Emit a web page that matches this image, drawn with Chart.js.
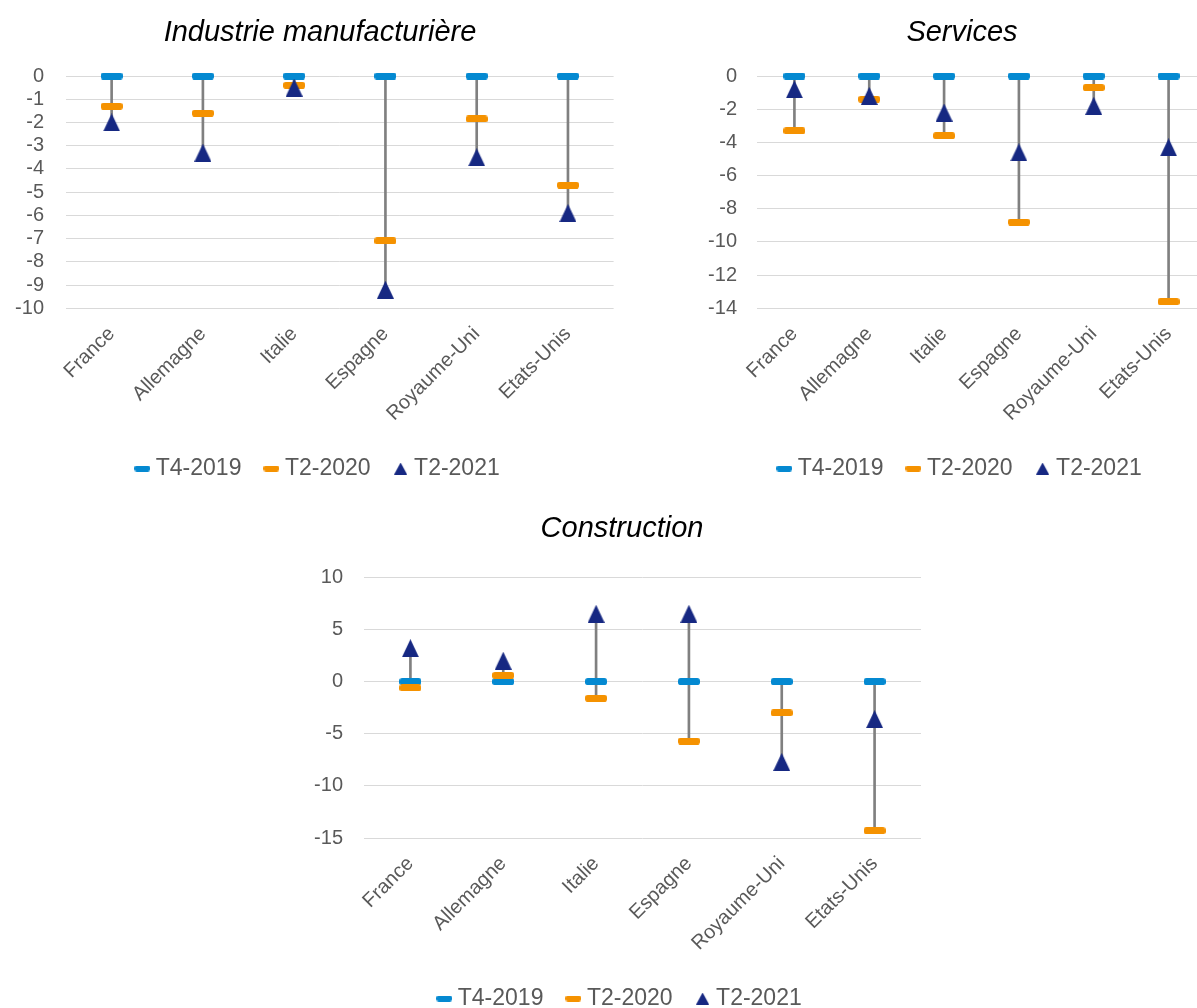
<!DOCTYPE html>
<html>
    <head>
        <meta charset="utf-8">
        <title>Industrie, services, construction</title>
        <script src="https://cdn.jsdelivr.net/npm/chart.js@4.4.1/dist/chart.umd.min.js"></script>
        <style>
            html, body { margin: 0; padding: 0; overflow: hidden; background: #fff; }
            body { width: 1197px; height: 1008px; position: relative; }
            canvas { position: absolute; }
        </style>
    </head>
    <body>
        <canvas id="chart-industrie" width="640" height="490" style="left:0px;top:0px"></canvas>
        <canvas id="chart-services" width="544" height="490" style="left:690px;top:0px"></canvas>
        <canvas id="chart-construction" width="644" height="530" style="left:300px;top:490px"></canvas>
        <script>
            // data
            var categories = ['France', 'Allemagne', 'Italie', 'Espagne', 'Royaume-Uni', 'Etats-Unis'];
            var seriesNames = ['T4-2019', 'T2-2020', 'T2-2021'];

            var industrie_t4_2019 = [0, 0, 0, 0, 0, 0];
            var industrie_t2_2020 = [-1.3, -1.6, -0.4, -7.1, -1.85, -4.7];
            var industrie_t2_2021 = [-2.0, -3.3, -0.5, -9.2, -3.5, -5.9];

            var services_t4_2019 = [0, 0, 0, 0, 0, 0];
            var services_t2_2020 = [-3.3, -1.4, -3.6, -8.8, -0.7, -13.6];
            var services_t2_2021 = [-0.8, -1.2, -2.2, -4.6, -1.8, -4.3];

            var construction_t4_2019 = [0, 0, 0, 0, 0, 0];
            var construction_t2_2020 = [-0.6, 0.6, -1.6, -5.7, -3.0, -14.3];
            var construction_t2_2021 = [3.2, 2.0, 6.5, 6.5, -7.7, -3.6];

            // [min, max, step]
            var industrie_ticks = [-10, 0, 1];
            var services_ticks = [-14, 0, 2];
            var construction_ticks = [-15, 10, 5];

            var color_blue = '#0489D1';
            var color_orange = '#F59200';
            var color_navy = '#162882';
            var color_text = '#595959';
            var font_family = '"Liberation Sans", Arial, sans-serif';

            function dashImg(color, w, h) {
                var c = document.createElement('canvas');
                c.width = w; c.height = h;
                var ctx = c.getContext('2d');
                ctx.fillStyle = color;
                ctx.beginPath();
                ctx.roundRect(0, 0, w, h, h / 2.5);
                ctx.fill();
                return c;
            }

            function triImg(color, w, h) {
                var c = document.createElement('canvas');
                c.width = w; c.height = h;
                var ctx = c.getContext('2d');
                ctx.fillStyle = color;
                ctx.beginPath();
                ctx.moveTo(w / 2, 0);
                ctx.lineTo(w, h);
                ctx.lineTo(0, h);
                ctx.closePath();
                ctx.fill();
                return c;
            }

            var markers = [dashImg(color_blue, 22, 7), dashImg(color_orange, 22, 7), triImg(color_navy, 17, 18)];
            var legendMarkers = [dashImg(color_blue, 16, 6), dashImg(color_orange, 16, 6), triImg(color_navy, 13, 12)];

            function makeChart(id, title, s1, s2, s3, yticks, box) {
                var highLow = s1.map(function(v, i) {
                    return [Math.min(v, s2[i], s3[i]), Math.max(v, s2[i], s3[i])];
                });
                var series = [s1, s2, s3];
                var datasets = [{
                    type: 'bar',
                    label: 'hl',
                    data: highLow,
                    backgroundColor: '#808080',
                    borderWidth: 0,
                    barThickness: 2,
                    order: 10
                }];
                for (var k = 0; k < 3; k++) {
                    datasets.push({
                        type: 'line',
                        label: seriesNames[k],
                        data: series[k],
                        showLine: false,
                        pointStyle: markers[k],
                        pointRadius: 10,
                        clip: false,
                        order: 3 - k
                    });
                }

                new Chart(document.getElementById(id), {
                    type: 'line',
                    data: { labels: categories, datasets: datasets },
                    options: {
                        responsive: false,
                        animation: false,
                        layout: { padding: 0 },
                        plugins: {
                            tooltip: { enabled: false },
                            title: {
                                display: true,
                                text: title,
                                color: '#000',
                                font: { family: font_family, size: 29, style: 'italic', weight: 'normal' },
                                padding: { top: box.titleTop, bottom: box.titleBottom }
                            },
                            legend: {
                                position: 'bottom',
                                labels: {
                                    usePointStyle: true,
                                    boxWidth: 4,
                                    padding: 28,
                                    color: color_text,
                                    font: { family: font_family, size: 23 },
                                    generateLabels: function(chart) {
                                        return seriesNames.map(function(name, k) {
                                            return {
                                                text: name,
                                                pointStyle: legendMarkers[k],
                                                fillStyle: 'transparent',
                                                strokeStyle: 'transparent',
                                                lineWidth: 0,
                                                fontColor: color_text,
                                                hidden: false,
                                                datasetIndex: k + 1
                                            };
                                        });
                                    }
                                }
                            }
                        },
                        scales: {
                            x: {
                                offset: true,
                                grid: { display: false, drawTicks: false },
                                border: { display: false },
                                afterFit: function(scale) { scale.height = box.xHeight; },
                                ticks: {
                                    autoSkip: false,
                                    minRotation: 45,
                                    maxRotation: 45,
                                    padding: 14,
                                    color: color_text,
                                    font: { family: font_family, size: 20 }
                                }
                            },
                            y: {
                                position: 'left',
                                min: yticks[0],
                                max: yticks[1],
                                grid: { color: '#D9D9D9', lineWidth: 1, drawTicks: false },
                                border: { display: false },
                                afterFit: function(scale) { scale.width = box.yWidth; },
                                ticks: {
                                    autoSkip: false,
                                    stepSize: yticks[2],
                                    padding: box.yPad,
                                    color: color_text,
                                    font: { family: font_family, size: 20 }
                                }
                            },
                            // empty right-hand strip so the plot ends where the picture's does
                            yRight: {
                                position: 'right',
                                display: true,
                                grid: { display: false, drawTicks: false },
                                border: { display: false },
                                ticks: { display: false },
                                afterFit: function(scale) { scale.width = box.rightWidth; }
                            }
                        }
                    }
                });
            }

            makeChart('chart-industrie', 'Industrie manufacturière',
                industrie_t4_2019, industrie_t2_2020, industrie_t2_2021, industrie_ticks,
                { titleTop: 16, titleBottom: 25.2, xHeight: 120.7, yWidth: 66, yPad: 22, rightWidth: 26.4 });

            makeChart('chart-services', 'Services',
                services_t4_2019, services_t2_2020, services_t2_2021, services_ticks,
                { titleTop: 16, titleBottom: 25.2, xHeight: 120.7, yWidth: 67, yPad: 20, rightWidth: 28 });

            makeChart('chart-construction', 'Construction',
                construction_t4_2019, construction_t2_2020, construction_t2_2021, construction_ticks,
                { titleTop: 21.5, titleBottom: 31, xHeight: 121, yWidth: 64, yPad: 21, rightWidth: 23 });
        </script>
    </body>
</html>
